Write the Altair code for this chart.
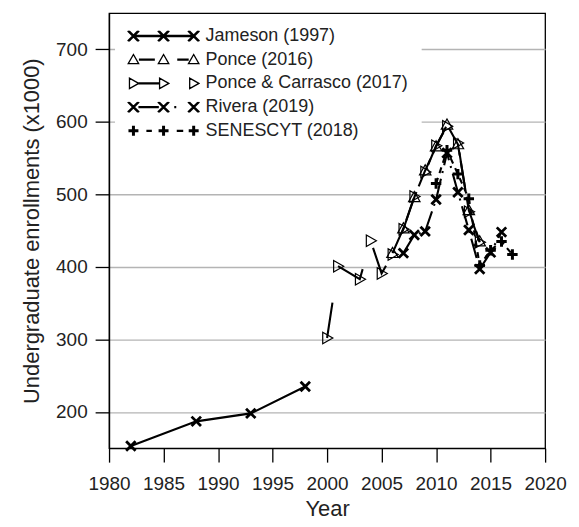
import altair as alt
import pandas as pd

# ---------------- data ----------------
series_names = ["Jameson (1997)", "Ponce (2016)", "Ponce & Carrasco (2017)",
                "Rivera (2019)", "SENESCYT (2018)"]

jameson_years = [1982, 1988, 1993, 1998]
jameson_vals = [153, 187, 198, 235]

ponce_years = [2006, 2007, 2008, 2009, 2010, 2011, 2012, 2013, 2014]
ponce_vals = [419, 453, 496, 533, 566, 596, 569, 478, 435]

pc_years = [2000, 2001, 2003, 2004, 2005, 2006, 2007, 2008, 2009, 2010, 2011, 2012, 2013, 2014]
pc_vals = [302, 401, 383, 436, 391, 417, 452, 497, 531, 567, 594, 571, 476, 434]

rivera_years = [2007, 2008, 2009, 2010, 2011, 2012, 2013, 2014, 2015, 2016]
rivera_vals = [419, 444, 449, 493, 557, 503, 451, 397, 420, 448]

sen_years = [2010, 2011, 2012, 2013, 2014, 2015, 2016, 2017]
sen_vals = [515, 561, 528, 494, 402, 423, 435, 417]

# major ticks every 5 years, minor ticks halfway between
x_ticks = [1980, 1982.5, 1985, 1987.5, 1990, 1992.5, 1995, 1997.5, 2000, 2002.5,
           2005, 2007.5, 2010, 2012.5, 2015, 2017.5, 2020]
y_ticks = [200, 300, 400, 500, 600, 700]

FONT = "Liberation Sans"

# ---------------- marker shapes ----------------
X_PATH = "M-1,-1L1,1M-1,1L1,-1"
PLUS_PATH = "M-1,0L1,0M0,-1L0,1"
TRI_UP = "M0,-1.05L1.05,0.8L-1.05,0.8Z"
TRI_RIGHT = "M1.05,0L-0.8,-1.05L-0.8,1.05Z"

# ---------------- legend symbol paths (line sample + 3 markers) ----------------
C = [-12.1, -6.05, 0.0]


def f(v):
    return f"{v:.2f}"


def xm(cx):
    s = ""
    for d in (-0.17, 0.0, 0.17):
        s += f"M{f(cx-1+d)},-1L{f(cx+1+d)},1M{f(cx-1+d)},1L{f(cx+1+d)},-1"
    return s


def pm(cx):
    s = ""
    for d in (-0.17, 0.0, 0.17):
        s += f"M{f(cx-1)},{f(d)}L{f(cx+1)},{f(d)}M{f(cx+d)},-1L{f(cx+d)},1"
    return s


def tu(cx):
    return f"M{f(cx)},-1.05L{f(cx+1.05)},0.8L{f(cx-1.05)},0.8Z"


def tr(cx):
    return f"M{f(cx+1.05)},0L{f(cx-0.8)},-1.05L{f(cx-0.8)},1.05Z"


def seg(a, b):
    return f"M{f(a)},-0.1L{f(b)},-0.1M{f(a)},0.1L{f(b)},0.1"


leg_paths = [
    seg(C[0], C[2]) + "".join(xm(c) for c in C),
    seg(-11.0, -7.8) + seg(-3.3, -1.0) + "".join(tu(c) for c in C),
    seg(-11.1, -6.9) + "".join(tr(c) for c in C),
    seg(-11.1, -7.0) + seg(-3.9, -3.5) + "".join(xm(c) for c in C),
    seg(-9.5, -8.4) + seg(-3.4, -2.1) + "".join(pm(c) for c in C),
]

# ---------------- scales / axes ----------------
xs = alt.Scale(domain=[1980, 2020], nice=False, zero=False)
ys = alt.Scale(domain=[150, 750], nice=False, zero=False)

x_axis = alt.Axis(
    values=x_ticks, format="d", orient="bottom",
    tickSize={"condition": {"test": "datum.value % 5 === 0", "value": 14}, "value": 7},
    labelExpr="datum.value % 5 === 0 ? datum.label : ''",
    labelFlush=False, labelOverlap=False,
    labelPadding=12, labelFontSize=19, title="Year",
    titleFontSize=22, titlePadding=6, grid=False)
y_axis = alt.Axis(values=y_ticks, tickSize=14, labelPadding=8, labelFontSize=19,
                  labelFlush=False, labelOverlap=False,
                  title="Undergraduate enrollments (x1000)", titleFontSize=22,
                  titlePadding=12, grid=True, gridColor="#b4b4b4", gridWidth=1.4)


def df(years, vals):
    return pd.DataFrame({"Year": years, "Enroll": vals})


def xy(with_axes=False):
    if with_axes:
        return dict(x=alt.X("Year:Q", scale=xs, axis=x_axis),
                    y=alt.Y("Enroll:Q", scale=ys, axis=y_axis))
    return dict(x=alt.X("Year:Q", scale=xs), y=alt.Y("Enroll:Q", scale=ys))


def line(d, dash=None, with_axes=False):
    kw = dict(color="black", strokeWidth=2.1, clip=True)
    if dash:
        kw["strokeDash"] = dash
    return alt.Chart(d).mark_line(**kw).encode(**xy(with_axes))


def pts(d, shape, size, sw):
    return alt.Chart(d).mark_point(shape=shape, size=size, filled=False, color="black",
                                   strokeWidth=sw, opacity=1).encode(**xy())


jam = df(jameson_years, jameson_vals)
pon = df(ponce_years, ponce_vals)
pc = df(pc_years, pc_vals)
riv = df(rivera_years, rivera_vals)
sen = df(sen_years, sen_vals)

layers = [
    line(jam, with_axes=True),
    line(pc, dash=[36, 37]),
    line(pon, dash=[30, 6]),
    line(riv, dash=[20, 6, 2, 6]),
    line(sen, dash=[6, 5]),
    pts(jam, X_PATH, 90, 2.8),
    pts(pc, TRI_RIGHT, 120, 1.2),
    pts(pon, TRI_UP, 120, 1.2),
    pts(riv, X_PATH, 90, 2.8),
    pts(sen, PLUS_PATH, 110, 3.0),
]

legend_df = pd.DataFrame({"series": series_names, "Year": [1970] * 5, "Enroll": [100] * 5})
legend_layer = alt.Chart(legend_df).mark_point(filled=False, color="black", size=100,
                                               strokeWidth=1.3, opacity=1, clip=True).encode(
    **xy(),
    shape=alt.Shape("series:N",
                    scale=alt.Scale(domain=series_names, range=leg_paths),
                    legend=alt.Legend(title=None, orient="none", direction="vertical",
                                      legendX=6, legendY=1, padding=13,
                                      fillColor="white", labelFont=FONT,
                                      labelFontSize=18, labelColor="#222222",
                                      labelLimit=400, labelOffset=3, symbolOffset=57,
                                      rowPadding=5.8,
                                      symbolSize=100, symbolStrokeWidth=1.3,
                                      symbolStrokeColor="black", symbolOpacity=1,
                                      symbolFillColor="transparent")),
)
layers.append(legend_layer)

chart = alt.layer(*layers).properties(
    width=438, height=437,
    autosize=alt.AutoSizeParams(type="none"),
    padding={"left": 101.5, "top": 4, "right": 26, "bottom": 74},
).configure_axis(
    domainColor="black", domainWidth=1.3, tickColor="black", tickWidth=1.3,
    labelColor="#222222", titleColor="#222222", labelFont=FONT, titleFont=FONT,
    titleFontWeight="normal",
).configure_view(stroke="black", strokeWidth=1.3)

chart.save("out.html", embed_options={"renderer": "svg", "actions": False})
